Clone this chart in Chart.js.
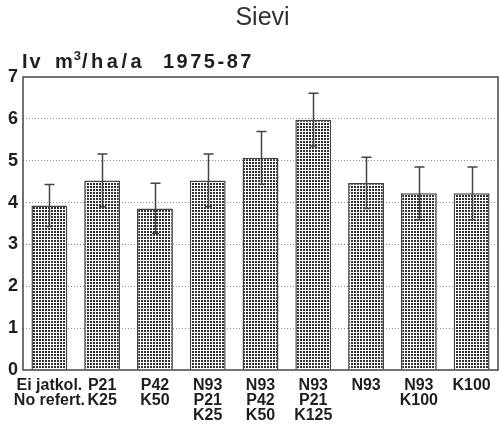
<!DOCTYPE html>
<html>
<head>
<meta charset="utf-8">
<script src="https://cdn.jsdelivr.net/npm/chart.js@4/dist/chart.umd.min.js"></script>
<style>
  html, body { margin: 0; padding: 0; background: #fff; }
  #wrap { width: 499px; height: 426px; }
</style>
</head>
<body>
<div id="wrap"><canvas id="c" width="499" height="426"></canvas></div>
<script>
// Treatment labels (multi-line)
const categories = [
  ["Ei jatkol.", "No refert."],
  ["P21", "K25"],
  ["P42", "K50"],
  ["N93", "P21", "K25"],
  ["N93", "P42", "K50"],
  ["N93", "P21", "K125"],
  ["N93"],
  ["N93", "K100"],
  ["K100"]
];
// Mean volume increment, m3/ha/a, 1975-87
const growth = [3.93, 4.53, 3.86, 4.53, 5.07, 5.98, 4.47, 4.22, 4.22];
// Standard error of each mean
const stdErr = [0.50, 0.63, 0.60, 0.63, 0.63, 0.63, 0.61, 0.63, 0.63];
const yTicks = [0, 1, 2, 3, 4, 5, 6, 7];

const TEXT = '#1e1e1e';
const LINE = '#444';
const FONT = '"Liberation Sans", Arial, Helvetica, sans-serif';

// Fine dot raster used as the bar fill
function dotPattern() {
  const t = document.createElement('canvas');
  t.width = 3; t.height = 3;
  const g = t.getContext('2d');
  g.fillStyle = '#fff';
  g.fillRect(0, 0, 3, 3);
  g.fillStyle = '#333';
  g.fillRect(0, 0, 2, 2);
  return g.createPattern(t, 'repeat');
}

const frame = {
  id: 'frame',
  afterDatasetsDraw(chart) {
    const { ctx, chartArea: a } = chart;
    ctx.save();
    ctx.strokeStyle = LINE;
    ctx.lineWidth = 1.5;
    ctx.strokeRect(a.left, a.top, a.right - a.left, a.bottom - a.top);
    ctx.restore();
  }
};

const errorBars = {
  id: 'errorBars',
  afterDatasetsDraw(chart) {
    const { ctx } = chart;
    const y = chart.scales.y;
    const meta = chart.getDatasetMeta(0);
    ctx.save();
    ctx.strokeStyle = LINE;
    ctx.lineWidth = 1.5;
    meta.data.forEach((bar, i) => {
      const x = Math.round(bar.x) + 0.5;
      const top = y.getPixelForValue(growth[i] + stdErr[i]);
      const bot = y.getPixelForValue(growth[i] - stdErr[i]);
      ctx.beginPath();
      ctx.moveTo(x, top); ctx.lineTo(x, bot);
      ctx.moveTo(x - 5, top); ctx.lineTo(x + 5, top);
      ctx.moveTo(x - 3.5, bot); ctx.lineTo(x + 3.5, bot);
      ctx.stroke();
    });
    ctx.restore();
  }
};

const headings = {
  id: 'headings',
  afterDraw(chart) {
    const { ctx, chartArea: a } = chart;
    ctx.save();
    ctx.fillStyle = '#333';
    ctx.textBaseline = 'alphabetic';
    ctx.textAlign = 'center';
    ctx.font = '25px ' + FONT;
    ctx.fillText('Sievi', (a.left + a.right) / 2 + 2, 25);

    ctx.fillStyle = TEXT;
    ctx.textAlign = 'left';
    ctx.font = 'bold 20px ' + FONT;
    ctx.letterSpacing = '2px';
    const base = a.top - 9;
    let x = a.left - 1;
    ctx.fillText('Iv', x, base);
    x = a.left + 32;
    ctx.fillText('m', x, base);
    x += ctx.measureText('m').width;
    ctx.font = 'bold 13px ' + FONT;
    ctx.letterSpacing = '0px';
    ctx.fillText('3', x - 1, base - 8);
    x += ctx.measureText('3').width;
    ctx.font = 'bold 20px ' + FONT;
    ctx.letterSpacing = '3.5px';
    ctx.fillText('/ha/a', x, base);
    ctx.letterSpacing = '2.5px';
    ctx.fillText('1975-87', a.left + 140, base);
    ctx.restore();
  }
};

new Chart(document.getElementById('c'), {
  type: 'bar',
  data: {
    labels: categories,
    datasets: [{
      data: growth,
      backgroundColor: dotPattern(),
      borderColor: LINE,
      borderWidth: 1.5,
      categoryPercentage: 1,
      barPercentage: 0.68
    }]
  },
  options: {
    responsive: false,
    devicePixelRatio: 1,
    animation: false,
    layout: { padding: { top: 77, right: 1, bottom: 0, left: 0 } },
    plugins: {
      legend: { display: false },
      title: { display: false },
      tooltip: { enabled: false }
    },
    scales: {
      x: {
        type: 'category',
        offset: true,
        grid: { display: false, drawTicks: false },
        border: { display: false },
        ticks: {
          color: TEXT,
          font: { family: FONT, size: 16, weight: 'bold', lineHeight: 0.95 },
          padding: 8,
          maxRotation: 0,
          autoSkip: false
        },
        afterFit(s) { s.height = 56; }
      },
      y: {
        min: 0,
        max: 7,
        afterBuildTicks(s) { s.ticks = yTicks.map(v => ({ value: v })); },
        grid: {
          drawTicks: false,
          lineWidth: 1,
          color: c => (c.tick && (c.tick.value === 0 || c.tick.value === 7)) ? 'rgba(0,0,0,0)' : '#8c8c8c'
        },
        border: { display: false, dash: [1, 2] },
        ticks: {
          color: TEXT,
          font: { family: FONT, size: 18, weight: 'bold' },
          padding: 5
        },
        afterFit(s) { s.width = 23; }
      }
    }
  },
  plugins: [frame, errorBars, headings]
});
</script>
</body>
</html>
